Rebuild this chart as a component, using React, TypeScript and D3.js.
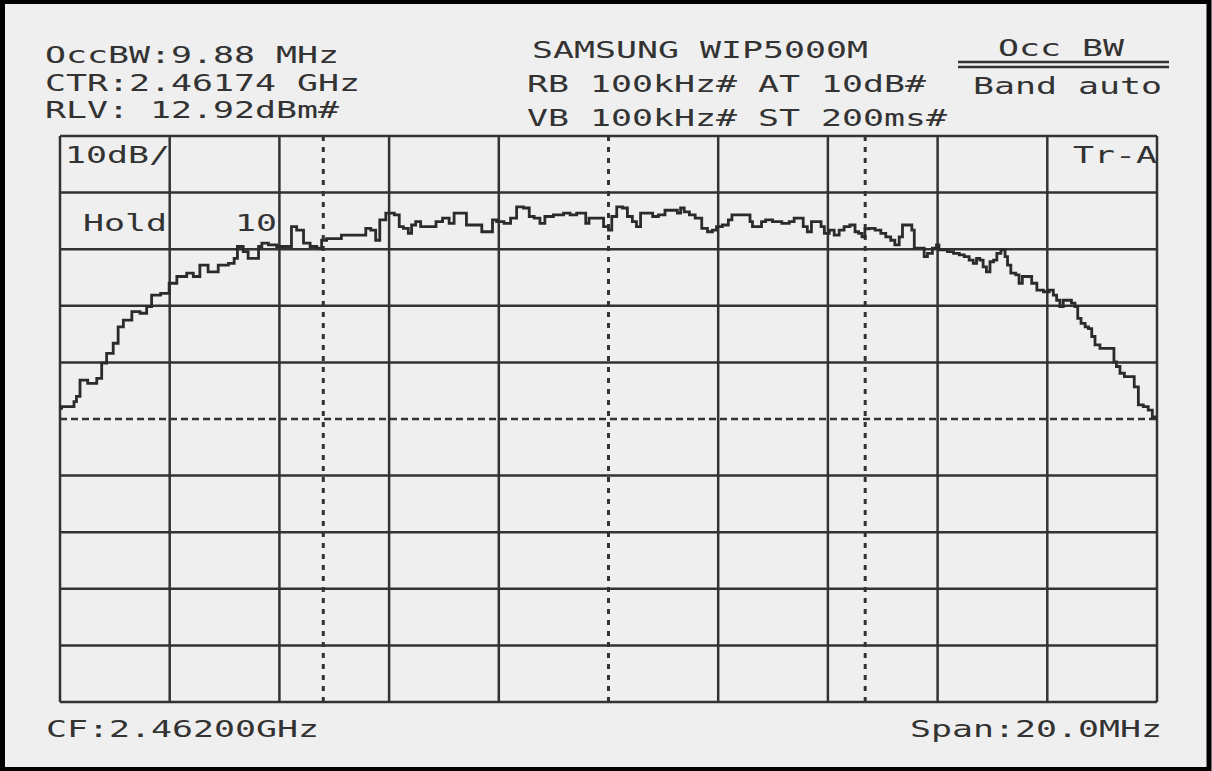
import React from "react";
import * as d3 from "d3";

// ---- data (frequency offset from CF in MHz, level in dBm) ----
const centerFreqGHz = 2.462;
const spanMHz = 20;
const refLevelDbm = 12.92;
const dbPerDiv = 10;
const divisionsX = 10;
const divisionsY = 10;
const occBwMHz = 9.88;
const occCenterGHz = 2.46174;

const headerLeft = ["OccBW:9.88 MHz", "CTR:2.46174 GHz", "RLV: 12.92dBm#"];
const headerMid = ["SAMSUNG WIP5000M", "RB 100kHz# AT 10dB#", "VB 100kHz# ST 200ms#"];
const headerRight = ["Occ BW", "Band auto"];
const footerLeft = "CF:2.46200GHz";
const footerRight = "Span:20.0MHz";
const scaleLabel = "10dB/";
const traceLabel = "Tr-A";
const holdLabel = "Hold";
const holdCount = "10";

const trace: [number, number][] = [
  [-10.0, -35.2], [-9.94, -34.9], [-9.76, -34.9], [-9.73, -34.0], [-9.67, -33.1], [-9.6, -30.2], [-9.39, -30.8], [-9.27, -29.9],
  [-9.21, -27.2], [-9.09, -25.5], [-8.97, -23.7], [-8.91, -20.8], [-8.78, -19.6], [-8.6, -18.1], [-8.48, -18.4], [-8.36, -17.2],
  [-8.3, -15.2], [-8.03, -14.9], [-7.99, -13.1], [-7.75, -11.9], [-7.63, -11.3], [-7.51, -11.9], [-7.39, -9.9], [-7.21, -11.1],
  [-7.02, -9.9], [-6.84, -9.6], [-6.81, -8.7], [-6.72, -6.6], [-6.6, -7.5], [-6.54, -8.7], [-6.41, -8.7], [-6.35, -6.6],
  [-6.29, -6.0], [-6.11, -6.3], [-5.99, -6.6], [-5.81, -6.6], [-5.75, -3.1], [-5.62, -3.7], [-5.5, -6.0], [-5.38, -6.6],
  [-5.26, -6.9], [-5.2, -5.5], [-5.08, -5.2], [-4.9, -5.2], [-4.84, -4.6], [-4.47, -4.6], [-4.38, -3.4], [-4.29, -3.7],
  [-4.2, -5.5], [-4.14, -1.9], [-3.98, -0.7], [-3.83, -1.0],
  [-3.8, -3.1], [-3.68, -3.4], [-3.62, -4.3], [-3.56, -2.8], [-3.47, -2.2], [-3.38, -3.1], [-3.19, -3.1], [-3.1, -2.2],
  [-2.95, -1.6], [-2.86, -2.5], [-2.77, -0.7], [-2.62, -0.7], [-2.56, -2.8], [-2.34, -2.8], [-2.28, -4.0], [-2.13, -4.0],
  [-2.1, -1.9], [-1.98, -2.2], [-1.83, -2.5], [-1.74, -1.6], [-1.61, 0.4], [-1.49, 0.2], [-1.4, -1.3], [-1.31, -1.6],
  [-1.19, -2.5], [-1.13, -1.3], [-0.88, -1.0], [-0.76, -0.7], [-0.64, -1.0], [-0.52, -0.7], [-0.43, -0.7], [-0.4, -2.5],
  [-0.31, -1.6], [-0.15, -1.6], [-0.03, -3.1], [0.03, -3.7], [0.09, -1.3], [0.21, 0.4],
  [0.3, 0.2], [0.39, -1.3], [0.48, -2.2], [0.54, -3.1], [0.63, -0.7], [0.76, -0.7], [0.85, -1.3], [0.97, -1.0],
  [1.09, -0.2], [1.21, -0.2], [1.3, -0.7], [1.33, 0.2], [1.43, -0.5], [1.52, -1.0], [1.64, -1.6], [1.76, -3.4],
  [1.85, -4.0], [1.94, -3.7], [2.0, -3.1], [2.15, -2.8], [2.22, -1.9], [2.28, -1.0], [2.55, -1.0], [2.61, -2.2],
  [2.64, -3.1], [2.76, -3.1], [2.82, -2.2], [2.91, -1.9], [3.07, -2.2], [3.25, -2.5], [3.34, -2.2], [3.43, -1.6],
  [3.52, -1.6], [3.58, -3.1], [3.67, -4.0], [3.73, -2.2], [3.86, -2.2], [3.89, -3.1], [3.98, -4.3], [4.07, -3.7],
  [4.16, -4.6], [4.25, -3.7], [4.34, -3.1], [4.46, -2.8], [4.53, -4.0], [4.59, -4.3], [4.65, -4.9], [4.7, -3.5],
  [4.8, -3.4], [4.92, -3.7], [5.01, -4.3], [5.1, -4.9], [5.19, -5.5], [5.25, -6.3], [5.35, -4.9], [5.37, -2.8],
  [5.5, -2.8], [5.56, -3.7], [5.59, -6.9], [5.74, -6.9], [5.77, -8.4], [5.86, -7.8], [5.95, -6.9], [6.01, -6.3],
  [6.04, -7.2], [6.13, -7.2], [6.23, -7.5], [6.35, -7.8], [6.44, -8.1], [6.53, -8.4], [6.62, -9.0], [6.68, -9.6],
  [6.74, -8.7], [6.8, -9.0], [6.86, -10.2], [6.92, -11.1], [6.99, -9.3], [7.05, -9.0], [7.11, -7.8],
  [7.2, -7.2], [7.26, -8.4], [7.29, -9.9], [7.38, -11.3], [7.47, -11.6], [7.5, -13.1], [7.59, -11.9], [7.68, -11.9],
  [7.75, -13.1], [7.87, -14.3], [7.99, -14.6], [8.08, -14.3], [8.14, -15.2], [8.2, -16.1], [8.26, -17.2], [8.32, -16.1],
  [8.41, -16.1], [8.47, -16.6], [8.54, -17.2], [8.57, -19.3], [8.66, -20.2], [8.72, -20.8], [8.78, -21.1], [8.84, -22.5],
  [8.9, -24.0], [9.02, -24.6], [9.2, -24.6], [9.23, -27.0], [9.29, -27.8], [9.36, -29.0], [9.45, -29.6], [9.54, -29.6],
  [9.63, -31.4], [9.69, -34.6], [9.81, -34.9], [9.87, -35.5], [9.96, -36.7], [10.0, -36.9],
];

// ---- layout ----
const W = 1212;
const H = 771;
const plot = { left: 60, right: 1157, top: 136, bottom: 702 };
const INK = "#333333";
const BG = "#efefef";
const FONT = "'DejaVu Sans Mono', 'Liberation Mono', monospace";
const PITCH = 21;
const FS = 22.5;

function Label({ x, y, text }: { x: number; y: number; text: string }) {
  return (
    <text
      x={x}
      y={y}
      fontFamily={FONT}
      fontSize={FS}
      fill={INK}
      textLength={text.length * PITCH}
      lengthAdjust="spacingAndGlyphs"
      style={{ whiteSpace: "pre" }}
    >
      {text}
    </text>
  );
}

export default function App() {
  const x = d3.scaleLinear().domain([-spanMHz / 2, spanMHz / 2]).range([plot.left, plot.right]);
  const y = d3
    .scaleLinear()
    .domain([refLevelDbm - dbPerDiv * divisionsY, refLevelDbm])
    .range([plot.bottom, plot.top]);

  const xTicks = d3.range(divisionsX + 1).map((i) => -spanMHz / 2 + (i * spanMHz) / divisionsX);
  const yTicks = d3.range(divisionsY + 1).map((i) => refLevelDbm - i * dbPerDiv);

  const centerOffset = (occCenterGHz - centerFreqGHz) * 1000;
  const markers = [0, centerOffset - occBwMHz / 2, centerOffset + occBwMHz / 2];

  const line = d3
    .line<[number, number]>()
    .x((d) => x(d[0]))
    .y((d) => y(d[1]))
    .curve(d3.curveStep);

  return (
    <div style={{ position: "fixed", left: 0, top: 0 }}>
      <svg width={W} height={H} style={{ display: "block" }}>
        <rect x={0} y={0} width={W} height={H} fill={BG} />
        {/* outer frame */}
        <rect x={2.5} y={1.5} width={W - 5.5} height={H - 3} fill="none" stroke="#000" strokeWidth={5} />

        {/* header text */}
        {headerLeft.map((t, i) => (
          <Label key={"hl" + i} x={45} y={63 + i * 27.5} text={t} />
        ))}
        {headerMid.map((t, i) => (
          <Label key={"hm" + i} x={[532, 527, 527][i]} y={[58, 92, 126][i]} text={t} />
        ))}
        <Label x={998} y={56} text={headerRight[0]} />
        <line x1={958} x2={1169} y1={62} y2={62} stroke={INK} strokeWidth={2.5} />
        <line x1={958} x2={1169} y1={67} y2={67} stroke={INK} strokeWidth={2.5} />
        <Label x={973} y={94} text={headerRight[1]} />

        {/* graticule */}
        {xTicks.map((v, i) =>
          i === divisionsX / 2 ? null : (
            <line key={"vx" + i} x1={x(v)} x2={x(v)} y1={plot.top} y2={plot.bottom} stroke={INK} strokeWidth={2.5} />
          )
        )}
        {yTicks.map((v, i) =>
          i === divisionsY / 2 ? (
            <line key={"hy" + i} x1={plot.left} x2={plot.right} y1={y(v)} y2={y(v)} stroke={INK} strokeWidth={2.5} strokeDasharray="7 4" />
          ) : (
            <line key={"hy" + i} x1={plot.left} x2={plot.right} y1={y(v)} y2={y(v)} stroke={INK} strokeWidth={2.5} />
          )
        )}
        {markers.map((m, i) => (
          <line key={"mk" + i} x1={x(m)} x2={x(m)} y1={plot.top} y2={plot.bottom} stroke={INK} strokeWidth={3} strokeDasharray="5 6" />
        ))}

        {/* in-grid labels */}
        <Label x={65} y={163} text={scaleLabel} />
        <Label x={1073} y={163} text={traceLabel} />
        <Label x={83} y={231} text={holdLabel} />
        <Label x={235} y={231} text={holdCount} />

        {/* trace */}
        <path d={line(trace) || ""} fill="none" stroke="#2b2b2b" strokeWidth={2.8} strokeLinejoin="miter" />

        {/* footer */}
        <Label x={46} y={737} text={footerLeft} />
        <Label x={910} y={737} text={footerRight} />
      </svg>
    </div>
  );
}
